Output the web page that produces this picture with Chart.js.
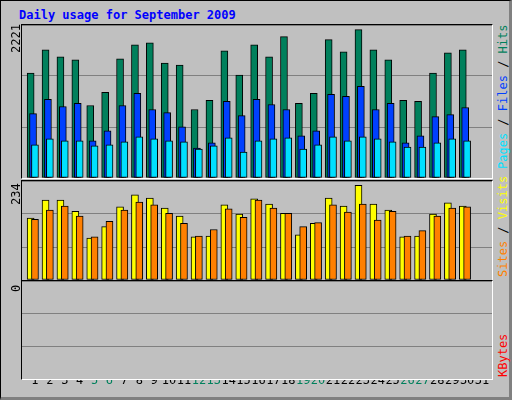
<!DOCTYPE html>
<html>
<head>
<meta charset="utf-8" />
<title>Daily usage for September 2009</title>
<script src="https://cdn.jsdelivr.net/npm/chart.js@4/dist/chart.umd.min.js"></script>
<style>
  body { margin: 0; background: #fff; }
  #frame { position: absolute; left: 0; top: 0; width: 508px; height: 396px; background: #c0c0c0;
           border: 1px solid #000; border-right: 3px solid #808080; border-bottom: 3px solid #808080; }
  .panel { position: absolute; left: 20px; width: 470px; border-left: 1px solid #000; border-top: 1px solid #000;
           border-right: 1px solid #fff; border-bottom: 1px solid #fff; }
  .panel canvas { display: block; }
  .lab { position: absolute; font: 12px "DejaVu Sans Mono", monospace; white-space: nowrap;
         transform-origin: left top; transform: rotate(-90deg); }
  #title { position: absolute; left: 18px; top: 7px; font: bold 12px "DejaVu Sans Mono", monospace; color: #0000ff; }
</style>
</head>
<body>
<div id="frame">
  <div id="title">Daily usage for September 2009</div>
  <div class="panel" style="top:23px;height:153px"><canvas id="c1" width="470" height="153"></canvas></div>
  <div class="panel" style="top:179px;height:99px"><canvas id="c2" width="470" height="99"></canvas></div>
  <div class="panel" style="top:279px;height:98px"><canvas id="c3" width="470" height="98"></canvas></div>
  <div id="xlab" style="position:absolute;left:21px;top:379px;width:470px;height:20px"><canvas id="c4" width="470" height="20"></canvas></div>
  <div class="lab" style="left:8px;top:52px;color:#000">2221</div>
  <div class="lab" style="left:8px;top:204px;color:#000">234</div>
  <div class="lab" style="left:8px;top:291px;color:#000">0</div>
  <div class="lab" style="left:495px;top:168px"><span style="color:#00e0ff">Pages</span><span style="color:#000"> / </span><span style="color:#0040ff">Files</span><span style="color:#000"> / </span><span style="color:#00805c">Hits</span></div>
  <div class="lab" style="left:495px;top:276px"><span style="color:#ff8000">Sites</span><span style="color:#000"> / </span><span style="color:#ffff00">Visits</span></div>
  <div class="lab" style="left:495px;top:376px;color:#ff0000">KBytes</div>
</div>
<script>
var days = [];
for (var d = 1; d <= 31; d++) days.push(d);
var weekends = [5, 6, 12, 13, 19, 20, 26, 27];

var hits  = [1570,1918,1812,1767,1085,1282,1782,1994,2024,1721,1691,1025,1161,1903,1540,1994,1812,2115,1116,1267,2070,1888,2221,1918,1767,1161,1146,1570,1873,1918];
var files = [964,1176,1070,1116,555,707,1085,1267,1025,979,767,449,525,1146,934,1176,1100,1025,631,707,1252,1222,1373,1025,1116,525,631,919,949,1055];
var pages = [495,586,555,555,480,495,540,616,586,555,540,434,480,601,389,555,586,601,434,495,616,555,616,586,540,464,464,525,586,555];
var visits = [153,198,198,170,104,132,181,211,203,178,158,107,109,186,163,201,188,165,112,140,203,183,234,188,173,107,109,163,191,183];
var sites  = [150,173,183,158,107,145,173,193,186,165,140,109,125,176,155,198,178,165,132,142,186,168,188,148,170,109,122,158,178,181];
var kbytes = [];

var XMIN = 0.13, XMAX = 31.67;

function pts(arr, off) {
  return arr.map(function (v, i) { return { x: days[i] + off, y: v }; });
}
function ds(arr, off, color) {
  return { data: pts(arr, off), backgroundColor: color, borderColor: '#000', borderWidth: 1,
           borderSkipped: false, barThickness: 7, grouped: false };
}
function opts(ymax) {
  return {
    responsive: false, animation: false,
    plugins: { legend: { display: false }, tooltip: { enabled: false } },
    layout: { padding: 0 },
    scales: {
      x: { type: 'linear', min: XMIN, max: XMAX, offset: false, display: false },
      y: { min: 0, max: ymax, ticks: { display: false, stepSize: ymax / 3 },
           grid: { color: '#808080', drawTicks: false }, border: { display: false } }
    }
  };
}

new Chart(document.getElementById('c1'), {
  type: 'bar',
  data: { datasets: [ds(pages, 0.0, '#00e0ff'), ds(files, -0.13, '#0040ff'), ds(hits, -0.29, '#00805c')] },
  options: opts(2290)
});
new Chart(document.getElementById('c2'), {
  type: 'bar',
  data: { datasets: [ds(sites, 0.0, '#ff8000'), ds(visits, -0.29, '#ffff00')] },
  options: opts(245)
});
new Chart(document.getElementById('c3'), {
  type: 'bar',
  data: { datasets: [ds(kbytes, 0.0, '#ff0000')] },
  options: opts(300)
});

// day labels along the bottom
var o4 = opts(1);
o4.scales.y.display = false;
o4.scales.x = {
  type: 'linear', min: XMIN, max: XMAX, offset: false, position: 'top',
  grid: { display: false, drawTicks: false }, border: { display: false },
  afterBuildTicks: function (ax) { ax.ticks = days.map(function (d) { return { value: d }; }); },
  ticks: {
    padding: 2, maxRotation: 0, autoSkip: false,
    font: { family: 'DejaVu Sans Mono', size: 12 },
    color: function (c) { return weekends.indexOf(c.tick.value) >= 0 ? '#00805c' : '#000'; },
    callback: function (v) { return String(v); }
  }
};
new Chart(document.getElementById('c4'), { type: 'bar', data: { datasets: [] }, options: o4 });
</script>
</body>
</html>
